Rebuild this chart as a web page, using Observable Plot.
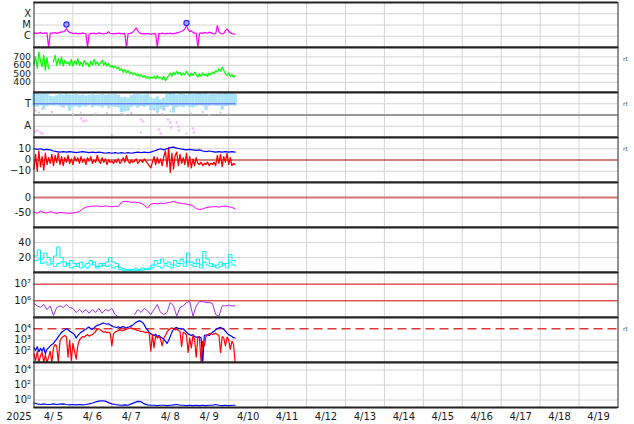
<!DOCTYPE html>
<html><head><meta charset="utf-8">
<script src="https://cdn.jsdelivr.net/npm/d3@7"></script>
<script src="https://cdn.jsdelivr.net/npm/@observablehq/plot@0.6"></script>
<style>
body{margin:0;background:#fff}
#chart{position:relative;width:634px;height:424px;overflow:hidden;background:#fff}
#chart svg{position:absolute;left:0}
</style>
</head><body><div id="chart"></div>
<script>
// ---------- time axis ----------
const START = Date.UTC(2025, 3, 5);   // 2025-04-05 00:00 UT
const HOUR = 3600e3;
const DAYS = 15;
const dayLabels = ["4/ 5","4/ 6","4/ 7","4/ 8","4/ 9","4/10","4/11","4/12","4/13","4/14","4/15","4/16","4/17","4/18","4/19"];
const yearLabel = "2025";

// ---------- panel 1: X-ray flux (1e-6 W/m2), hourly ----------
const xrayFlux = [
 1.8,2.0,1.7,1.9,2.2,1.8,1.9,2.0,1.9,0.1,
 1.8,2.0,1.9,2.1,1.8,2.0,2.2,2.5,2.4,3.0,
 4.8,2.8,2.2,2.0,
 1.8,1.7,1.9,1.6,1.8,1.7,2.0,1.8,1.7,0.1,
 1.6,1.8,1.7,1.9,1.6,1.7,2.0,1.8,1.7,1.6,1.8,1.9,2.6,1.8,1.7,1.6,1.8,1.7,1.9,1.8,1.6,1.7,1.8,0.1,
 1.7,1.8,2.0,2.4,3.5,5.5,3.0,2.0,1.8,1.6,1.7,1.6,1.8,1.6,1.5,1.6,1.7,1.6,0.1,
 1.8,1.6,1.9,1.7,1.6,1.8,1.7,1.9,1.6,1.8,1.7,2.0,2.2,2.4,2.8,3.2,4.5,9.0,4.0,2.6,3.0,2.2,1.9,
 1.8,0.1,
 1.8,2.0,1.8,2.2,2.0,1.9,2.3,2.1,1.8,1.6,1.7,9.0,2.5,1.8,1.6,1.8,3.0,4.5,2.8,2.0,1.7,1.6,1.5
];
const flareHours = [20, 94];
const flarePeaks = [11, 15];
const xrayClassTicks = [100, 10, 1];
const xrayClassLabels = ["X", "M", "C"];

// ---------- panel 2: solar wind speed (km/s), hourly ----------
const windSpeed = [
 620,700,560,760,650,580,720,540,690,560,
 null,null,
 640,720,600,680,610,700,590,660,620,
 640,600,670,590,650,610,680,600,640,590,660,610,630,580,650,600,670,610,640,600,
 630,660,600,640,590,620,580,600,570,
 590,560,580,540,560,520,550,510,540,500,520,490,
 510,480,500,470,490,460,480,450,470,440,460,
 450,470,440,480,450,460,430,470,420,450,
 480,510,470,520,490,530,500,520,480,510,490,530,
 500,470,510,480,520,490,460,500,470,510,480,500,470,510,490,520,
 500,540,520,560,530,580,540,
 500,480,510,470,490,460,480
];

// ---------- panel 3: IMF sector angle (deg), 2-hourly range ----------
const phiHigh = [350,352,345,350,348,330,325,335,345,340,348,342,338,345,335,340,332,338,342,336,340,345,338,342,340,344,336,318,322,315,335,342,346,340,338,344,320,310,325,300,315,345,352,348,340,350,346,338,350,344,348,352,346,350,342,348,344,350,346,352,348,350,346];
const phiLow  = [250,240,255,220,245,255,250,258,245,235,250,210,240,248,235,250,242,255,238,250,245,236,250,230,245,240,235,200,205,210,240,250,235,248,240,250,215,220,200,225,210,240,250,195,235,245,238,250,240,236,245,255,250,215,248,255,250,252,220,248,250,256,250];
const awayHours = [0.8,2,3.9,5,29,30.3,32,66,67.3,77,78,82.6,84,84.5,88,89,89.4,98,98.7];
const awayPhi   = [48,56,40,32,152,128,136,144,128,64,32,144,120,80,120,88,56,72,40];
const grayHours = [1,3,5,11,24,29,38,45,48,54,56,60,66,74,76,79,80,84,94,97,104,108,115,120];
const grayPhi   = [215,200,230,205,185,200,190,195,20,190,185,195,40,225,200,190,230,210,32,190,205,180,200,190];
const towardLevel = 270;

// ---------- panel 4: IMF Bt (2-hourly) and Bz (hourly), nT ----------
const imfBt = [10,9.5,10,9,9.5,9,8,7.5,7,7.5,7,7.5,7,6.5,7,7.5,7,6.5,7,6.5,7,6.5,6,6.5,6,6.5,6,6.5,6,6.5,6,6.5,7,6.5,7,6.5,7,8,9,10,9,10,11,11.5,10.5,10,9.5,9,9.5,9,8.5,9,8,7.5,8,7.5,7,7.5,7,7.5,7,7.5,7];
const imfBz = [
 -8,5,-10,8,-6,3,-9,6,-4,2,
 -3,5,-5,4,-2,6,-4,3,-5,2,
 -2,4,-3,1,-4,3,-1,2,-3,3,
 -2,1,-4,2,-1,3,-3,0,-2,4,
 -1,-3,2,-2,1,-4,0,-2,-1,-3,
 0,-2,1,-3,-1,2,-2,4,-1,-3,
 0,-2,-1,1,-3,-1,0,-2,1,-1,
 -3,-5,-7,-2,3,-4,2,-3,1,-5,
 3,8,-6,11,-11,6,-8,4,7,-5,
 5,-3,2,-4,6,-6,3,-7,1,-5,
 2,-3,-4,-2,-5,-3,-4,-2,-5,-3,
 -4,-2,-5,4,-3,5,-6,3,-2,6,
 -4,2,-5,-3,-4
];

// ---------- panel 5: Dst (nT), 2-hourly ----------
const dst = [-48,-53,-45,-50,-52,-47,-50,-53,-50,-51,-52,-53,-51,-50,-46,-38,-32,-30,-29,-28,-29,-30,-28,-30,-31,-29,-30,-15,-13,-14,-16,-15,-17,-19,-26,-35,-22,-20,-21,-19,-20,-18,-16,-13,-17,-19,-20,-22,-24,-28,-37,-40,-38,-34,-32,-31,-30,-32,-30,-29,-31,-33,-38];

// ---------- panel 6: two cyan series, 2-hourly ----------
const cyanUpper = [22,30,18,26,20,14,22,34,20,14,10,16,12,8,14,10,12,16,10,8,12,9,14,20,14,12,7,5,4,3,4,5,3,6,4,6,10,16,12,18,12,14,10,16,12,18,14,26,14,12,18,10,28,18,12,8,10,14,10,12,24,16,14];
const cyanLower = [16,18,12,14,10,12,8,12,14,8,12,6,8,12,6,8,6,10,14,6,8,12,8,10,6,8,4,3,2,4,2,3,4,3,5,4,6,10,8,6,10,8,6,10,8,12,8,14,10,8,12,6,14,10,8,10,6,8,12,6,14,10,8];

// ---------- panel 7: purple flux, 2-hourly ----------
const purpleFlux = [7e5,5e5,4e5,6e5,3e5,5e5,1.3e5,4e5,5e5,4e5,6e5,4e5,3.5e5,2e5,3e5,2e5,3e5,1.8e5,3e5,2e5,3.5e5,1.8e5,3e5,2.5e5,3.5e5,1.5e5,1.1e5,
 null,null,null,null,
 1.5e5,3e5,2e5,3.5e5,2.5e5,1.5e5,3e5,6e5,2e5,1.5e5,2e5,8e5,5e5,1.2e5,4e5,5e5,8e5,9e5,1.2e5,5e5,9e5,9e5,8e5,8e5,7e5,1.5e5,1.2e5,5e5,5e5,5.5e5,5e5,5e5];
const purpleRefLines = [1e7, 1e6];

// ---------- panel 8: blue and red flux, hourly ----------
const fluxBlue = [
 200,120,250,90,180,100,220,60,150,200,
 300,400,500,800,1200,2000,3000,5000,6000,8000,
 10000,8000,6000,5000,4000,3000,1500,2500,3500,5000,
 6000,8000,9000,12000,14000,10000,9000,12000,16000,20000,
 22000,25000,30000,32000,28000,25000,28000,22000,18000,15000,
 14000,13000,15000,12000,14000,16000,13000,12000,14000,15000,
 18000,22000,30000,38000,45000,50000,45000,35000,22000,12000,
 8000,5000,3500,3000,2500,3200,2000,2500,1800,1500,
 1200,800,500,900,2000,5000,9000,12000,13000,10000,
 11000,9000,10000,7000,5000,3500,3000,2500,3000,2000,
 1800,1600,2000,1500,10,2500,2800,3000,2500,3500,
 5000,6000,8000,10000,12000,13000,11000,9000,6000,4000,
 3000,2500,2000,1600,1500
];
const fluxRed = [
 60,15,100,10,40,80,10,50,10,30,
 100,10,200,400,300,10,800,1500,2000,2500,
 1800,30,1000,15,500,100,20,300,1000,1500,
 2000,1800,2500,3000,2200,2800,3000,4000,6000,9000,
 10000,8000,6000,5000,5500,4500,5000,4000,300,3500,
 5000,6000,7000,8000,6500,7000,8000,9000,10000,11000,
 12000,10000,9000,8000,7000,6500,5500,6000,5000,4500,
 5000,4000,100,3000,200,2500,1500,2000,1200,300,
 1500,2500,5000,8000,10000,12000,10000,8000,9000,7000,
 6000,250,5000,4000,3000,80,1500,200,2500,1000,
 30,2000,1500,10,800,300,2000,3000,3500,4000,
 3000,3500,4000,3000,2500,80,2000,1500,300,1800,
 1000,150,800,400,10
];
const fluxThreshold = [1e4];

// ---------- panel 9: blue flux, 2-hourly ----------
const lowFlux = [0.4,0.3,0.25,0.3,0.25,0.25,0.3,0.25,0.28,0.3,0.25,0.22,0.25,0.22,0.25,0.22,0.25,0.3,0.4,0.55,0.7,0.8,0.7,0.45,0.3,0.25,0.22,0.2,0.22,0.2,0.3,0.45,0.65,0.6,0.3,0.22,0.2,0.2,0.18,0.2,0.2,0.18,0.2,0.22,0.25,0.2,0.2,0.18,0.2,0.18,0.2,0.18,0.2,0.18,0.2,0.2,0.25,0.2,0.18,0.2,0.18,0.2,0.2];

// ---------- helpers ----------
const at = h => new Date(START + h * HOUR);
const series = (vals, step) => vals.map((v, i) => ({date: at(i * step), v}));
const xDomain = [at(0), at(DAYS * 24)];
const noonTicks = dayLabels.map((_, i) => at(i * 24 + 12));
const midnightGrid = dayLabels.slice(1).map((_, i) => at((i + 1) * 24));
const sup = {"0":"⁰","1":"¹","2":"²","3":"³","4":"⁴","5":"⁵","6":"⁶","7":"⁷","8":"⁸","9":"⁹"};
const pow10 = d => "10" + String(Math.round(Math.log10(d))).split("").map(c => sup[c]).join("");
const GRID = "#d4d4d4";

const chart = document.getElementById("chart");

function addPanel(index, y, gridValues, marks, last = false, fontSize = "10px") {
  const svg = Plot.plot({
    width: 634,
    height: 47 + (last ? 17 : 0),
    marginLeft: 33.5, marginRight: 16.5, marginTop: 1, marginBottom: 1 + (last ? 17 : 0),
    style: {background: "transparent", fontFamily: "'DejaVu Sans', sans-serif", fontSize, color: "#1a1a1a"},
    x: last
      ? {type: "utc", domain: xDomain, ticks: noonTicks, tickSize: 0, tickPadding: 5, label: null,
         tickFormat: d => dayLabels[Math.floor((d - START) / (24 * HOUR))]}
      : {type: "utc", domain: xDomain, axis: null},
    y: {tickSize: 0, tickPadding: 3, label: null, ...y},
    marks: [
      Plot.ruleX(midnightGrid, {stroke: GRID}),
      Plot.ruleY(gridValues, {stroke: GRID}),
      ...marks,
      Plot.frame({stroke: "#222"}),
      Plot.ruleY(y.domain, {stroke: "#222", strokeWidth: 2}),
      ...(last ? [Plot.text([yearLabel], {text: d => d, frameAnchor: "bottom-left", dx: -15, dy: 9, textAnchor: "middle", lineAnchor: "middle", fontSize: 10})] : [])
    ]
  });
  svg.style.top = (1 + 45 * index) + "px";
  chart.append(svg);
}
const rt = () => Plot.text(["rt"], {text: d => d, frameAnchor: "top-right", dx: 5, dy: 9, fontSize: 6, fill: "#555", textAnchor: "start"});

// panel 1
addPanel(0,
  {type: "log", domain: [0.1, 1000], ticks: xrayClassTicks, tickFormat: d => xrayClassLabels[xrayClassTicks.indexOf(d)]},
  xrayClassTicks,
  [
    Plot.line(series(xrayFlux, 1), {x: "date", y: "v", stroke: "#ff00ff", strokeWidth: 1.2}),
    Plot.dot(flareHours.map((h, i) => ({date: at(h), v: flarePeaks[i]})), {x: "date", y: "v", r: 2.6, stroke: "#2a2aff", fill: "#a8a8ff", strokeWidth: 1.2})
  ]);

// panel 2
addPanel(1,
  {domain: [280, 810], ticks: [400, 500, 600, 700], tickFormat: d => String(d)},
  [400, 500, 600, 700],
  [
    Plot.line(series(windSpeed, 1), {x: "date", y: "v", stroke: "#00ff00", strokeWidth: 1.2}),
    rt()
  ], false, "9.3px");

// panel 3
const phiSeries = phiHigh.map((hi, i) => ({date: at(i * 2), hi, lo: phiLow[i], level: towardLevel}));
addPanel(2,
  {domain: [0, 360], ticks: [270, 90], tickFormat: d => d === 270 ? "T" : "A"},
  [270, 90],
  [
    Plot.ruleY([180], {stroke: "#777", strokeWidth: 1.3}),
    Plot.ruleX(phiSeries, {x: "date", y1: "lo", y2: "hi", stroke: "#a6e3fb", strokeWidth: 3.4}),
    Plot.dot(grayHours.map((h, i) => ({date: at(h), v: grayPhi[i]})), {x: "date", y: "v", r: 1.1, fill: "#c8c8c8"}),
    Plot.dot(awayHours.map((h, i) => ({date: at(h), v: awayPhi[i]})), {x: "date", y: "v", r: 1.3, fill: "#ffb4ff"}),
    Plot.line(phiSeries, {x: "date", y: "level", stroke: "#6b84f5", strokeWidth: 1.5}),
    rt()
  ]);

// panel 4
addPanel(3,
  {domain: [-20, 20], ticks: [10, 0, -10], tickFormat: d => d < 0 ? "\u2212" + (-d) : String(d)},
  [10, -10],
  [
    Plot.ruleY([0], {stroke: "#a00000", strokeWidth: 1}),
    Plot.line(series(imfBz, 1), {x: "date", y: "v", stroke: "#ff0000", strokeWidth: 1.3}),
    Plot.line(series(imfBt, 2), {x: "date", y: "v", stroke: "#0000ff", strokeWidth: 1.2}),
    rt()
  ]);

// panel 5
addPanel(4,
  {domain: [-100, 50], ticks: [0, -50], tickFormat: d => d < 0 ? "-" + (-d) : String(d)},
  [-50],
  [
    Plot.ruleY([0], {stroke: "#d27474", strokeWidth: 2}),
    Plot.line(series(dst, 2), {x: "date", y: "v", stroke: "#ff00ff", strokeWidth: 1})
  ]);

// panel 6
addPanel(5,
  {domain: [0, 60], ticks: [40, 20], tickFormat: d => String(d)},
  [40, 20],
  [
    Plot.line(series(cyanLower, 2), {x: "date", y: "v", stroke: "#00ffff", strokeWidth: 1, curve: "step-after"}),
    Plot.line(series(cyanUpper, 2), {x: "date", y: "v", stroke: "#00f0f0", strokeWidth: 1, curve: "step-after"})
  ]);

// panel 7
addPanel(6,
  {type: "log", domain: [1e5, 5e7], ticks: [1e7, 1e6], tickFormat: pow10},
  [],
  [
    Plot.ruleY(purpleRefLines, {stroke: "#c80000", strokeWidth: 1}),
    Plot.line(series(purpleFlux, 2), {x: "date", y: "v", stroke: "#a030e0", strokeWidth: 1})
  ]);

// panel 8
addPanel(7,
  {type: "log", domain: [10, 1e5], ticks: [1e4, 1e3, 1e2], tickFormat: pow10},
  [1e3, 1e2],
  [
    Plot.ruleY(fluxThreshold, {stroke: "#d83a3a", strokeWidth: 1.5, strokeDasharray: "9,5"}),
    Plot.line(series(fluxBlue, 1), {x: "date", y: "v", stroke: "#0000ff", strokeWidth: 1.2}),
    Plot.line(series(fluxRed, 1), {x: "date", y: "v", stroke: "#ff0000", strokeWidth: 1.2}),
    rt()
  ]);

// panel 9
addPanel(8,
  {type: "log", domain: [0.1, 1e5], ticks: [1e4, 1e2, 1], tickFormat: pow10},
  [1e4, 1e2, 1],
  [
    Plot.line(series(lowFlux, 2), {x: "date", y: "v", stroke: "#0000ff", strokeWidth: 1.2})
  ], true);
</script>
</body></html>
